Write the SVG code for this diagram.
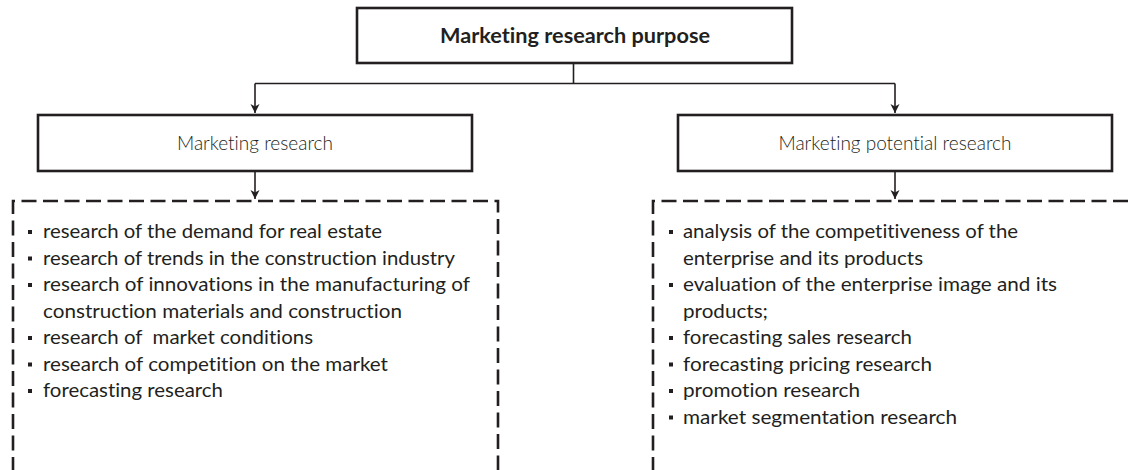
<svg xmlns="http://www.w3.org/2000/svg" width="1132" height="470" viewBox="0 0 1132 470">
  <defs>
    <marker id="arr" markerWidth="12" markerHeight="10" refX="9" refY="5" orient="auto" markerUnits="userSpaceOnUse">
      <path d="M0,0.5 L9,5 L0,9.5 L2.5,5 Z" fill="#231f20"/>
    </marker>
    <style>
      text { font-variant-ligatures: none; font-feature-settings: "liga" 0, "clig" 0; }
      .box { fill: #ffffff; stroke: #231f20; stroke-width: 2.6; }
      .dash { fill: none; stroke: #231f20; stroke-width: 2.6; stroke-dasharray: 15 6.5; }
      .conn { fill: none; stroke: #231f20; stroke-width: 1.6; }
      .t { font-family: "Lato", "Liberation Sans", sans-serif; font-size: 20px; fill: #231f20; }
      .lbl { font-family: "Lato", "Liberation Sans", sans-serif; font-size: 19px; font-weight: 300; fill: #231f20; text-anchor: middle; }
      .title { font-family: "Lato", "Liberation Sans", sans-serif; font-size: 21px; font-weight: bold; fill: #231f20; text-anchor: middle; }
      .b { fill: #231f20; }
    </style>
  </defs>

  <g id="connectors">
    <path class="conn" d="M573.5,63 V83.5"/>
    <path class="conn" d="M255,83.5 H895"/>
    <path class="conn" d="M255,83.5 V113" marker-end="url(#arr)"/>
    <path class="conn" d="M895,83.5 V113" marker-end="url(#arr)"/>
    <path class="conn" d="M255,171 V199" marker-end="url(#arr)"/>
    <path class="conn" d="M895,171 V199" marker-end="url(#arr)"/>
  </g>

  <g id="node-purpose">
    <rect class="box" x="357" y="8" width="435" height="55"/>
    <text class="title" x="575" y="43" textLength="270" lengthAdjust="spacingAndGlyphs">Marketing research purpose</text>
  </g>

  <g id="node-marketing-research">
    <rect class="box" x="38" y="115" width="434" height="56"/>
    <text class="lbl" x="255" y="150">Marketing research</text>
  </g>

  <g id="node-potential-research">
    <rect class="box" x="678" y="115" width="434" height="56"/>
    <text class="lbl" x="895" y="150">Marketing potential research</text>
  </g>

  <g id="node-left-list">
    <path class="dash" d="M13,472 V201 H498 V472"/>
    <rect class="b" x="28" y="230" width="4" height="4"/>
    <text class="t" x="43" y="238" textLength="339" lengthAdjust="spacingAndGlyphs">research of the demand for real estate</text>
    <rect class="b" x="28" y="256.5" width="4" height="4"/>
    <text class="t" x="43" y="264.5" textLength="412" lengthAdjust="spacingAndGlyphs">research of trends in the construction industry</text>
    <rect class="b" x="28" y="283" width="4" height="4"/>
    <text class="t" x="43" y="291" textLength="427" lengthAdjust="spacingAndGlyphs">research of innovations in the manufacturing of</text>
    <text class="t" x="43" y="317.5" textLength="359" lengthAdjust="spacingAndGlyphs">construction materials and construction</text>
    <rect class="b" x="28" y="336" width="4" height="4"/>
    <text class="t" x="43" y="344" textLength="270" lengthAdjust="spacingAndGlyphs" xml:space="preserve">research of  market conditions</text>
    <rect class="b" x="28" y="362.5" width="4" height="4"/>
    <text class="t" x="43" y="370.5" textLength="345" lengthAdjust="spacingAndGlyphs">research of competition on the market</text>
    <rect class="b" x="28" y="389" width="4" height="4"/>
    <text class="t" x="43" y="397" textLength="180" lengthAdjust="spacingAndGlyphs">forecasting research</text>
  </g>

  <g id="node-right-list">
    <path class="dash" d="M653,472 V201 H1140"/>
    <rect class="b" x="669" y="230" width="4" height="4"/>
    <text class="t" x="683" y="238" textLength="335" lengthAdjust="spacingAndGlyphs">analysis of the competitiveness of the</text>
    <text class="t" x="683" y="264.5" textLength="240" lengthAdjust="spacingAndGlyphs">enterprise and its products</text>
    <rect class="b" x="669" y="283" width="4" height="4"/>
    <text class="t" x="683" y="291" textLength="374" lengthAdjust="spacingAndGlyphs">evaluation of the enterprise image and its</text>
    <text class="t" x="683" y="317.5" textLength="85" lengthAdjust="spacingAndGlyphs">products;</text>
    <rect class="b" x="669" y="336" width="4" height="4"/>
    <text class="t" x="683" y="344" textLength="229" lengthAdjust="spacingAndGlyphs">forecasting sales research</text>
    <rect class="b" x="669" y="362.5" width="4" height="4"/>
    <text class="t" x="683" y="370.5" textLength="249" lengthAdjust="spacingAndGlyphs">forecasting pricing research</text>
    <rect class="b" x="669" y="389" width="4" height="4"/>
    <text class="t" x="683" y="397" textLength="177" lengthAdjust="spacingAndGlyphs">promotion research</text>
    <rect class="b" x="669" y="415.5" width="4" height="4"/>
    <text class="t" x="683" y="423.5" textLength="274" lengthAdjust="spacingAndGlyphs">market segmentation research</text>
  </g>
</svg>
